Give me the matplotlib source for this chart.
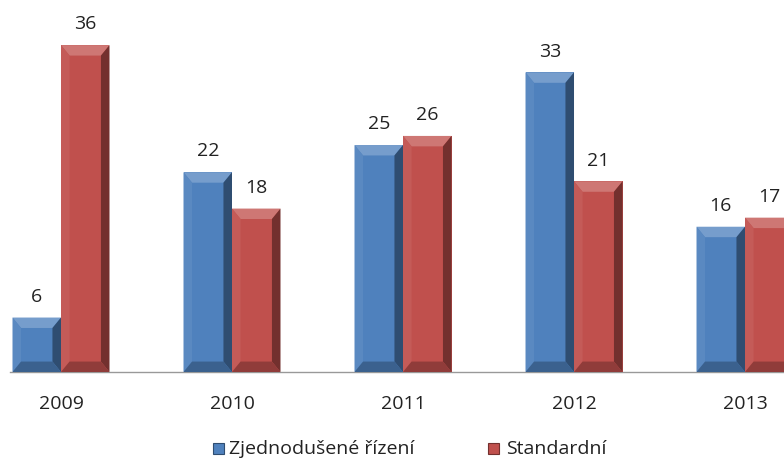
import numpy as np
import matplotlib.pyplot as plt
from matplotlib.patches import Polygon, Rectangle
from matplotlib.colors import to_rgb

years = ["2009", "2010", "2011", "2012", "2013"]
zjednodusene = [6, 22, 25, 33, 16]
standardni = [36, 18, 26, 21, 17]
series_names = ["Zjednodušené řízení", "Standardní"]

blue = "#4F81BD"
red = "#C0504D"

plt.rcParams['font.family'] = ['Open Sans', 'DejaVu Sans']

fig = plt.figure(figsize=(7.84, 4.61), dpi=100)
ax = fig.add_axes([0, 0, 1, 1])
ax.set_xlim(-0.3567, 4.228)
ax.set_ylim(-9.80, 40.97)
ax.axis("off")

w = 0.2836
x = np.arange(len(years))
dx, dy = 0.05, 1.15


def shade(c, f):
    r, g, b = to_rgb(c)
    if f > 1:
        return tuple(v + (1 - v) * (f - 1) for v in (r, g, b))
    return tuple(v * f for v in (r, g, b))


def bevel_bars(xs, vals, color):
    bars = ax.bar(xs, vals, width=w, color=color, align="edge", zorder=2, linewidth=0)
    for b in bars:
        x0, y0 = b.get_x(), b.get_y()
        x1, y1 = x0 + b.get_width(), y0 + b.get_height()
        parts = [
            ([(x0, y1), (x1, y1), (x1 - dx, y1 - dy), (x0 + dx, y1 - dy)], 1.22),
            ([(x0, y0), (x0, y1), (x0 + dx, y1 - dy), (x0 + dx, y0 + dy)], 1.06),
            ([(x1, y0), (x1, y1), (x1 - dx, y1 - dy), (x1 - dx, y0 + dy)], 0.6),
            ([(x0, y0), (x1, y0), (x1 - dx, y0 + dy), (x0 + dx, y0 + dy)], 0.75),
        ]
        for pts, f in parts:
            ax.add_patch(Polygon(pts, closed=True, facecolor=shade(color, f),
                                 edgecolor="none", zorder=3))
    return bars


b1 = bevel_bars(x - w, zjednodusene, blue)
b2 = bevel_bars(x, standardni, red)

# value labels
for bars, vals in ((b1, zjednodusene), (b2, standardni)):
    for b, v in zip(bars, vals):
        ax.text(b.get_x() + b.get_width() / 2, v + 1.3, str(v), ha="center",
                va="bottom", fontsize=14, color="#222222")

# axis line and category labels
ax.plot([-0.298, 4.228], [0, 0], color="#999999", lw=1, zorder=1)
for xi, yr in zip(x, years):
    ax.text(xi, -2.5, yr, ha="center", va="top", fontsize=14, color="#222222")

# legend
for (px, color), (tx, name) in zip([(213, blue), (488, red)],
                                    [(229, series_names[0]), (506, series_names[1])]):
    fig.patches.append(Rectangle((px / 784, 1 - 454 / 461), 11 / 784, 11 / 461,
                                 transform=fig.transFigure, facecolor=color,
                                 edgecolor=shade(color, 0.6), lw=0.8))
    fig.text(tx / 784, 1 - 449 / 461, name, ha="left", va="center",
             fontsize=14, color="#222222")

fig.savefig("out.png", dpi=100)
